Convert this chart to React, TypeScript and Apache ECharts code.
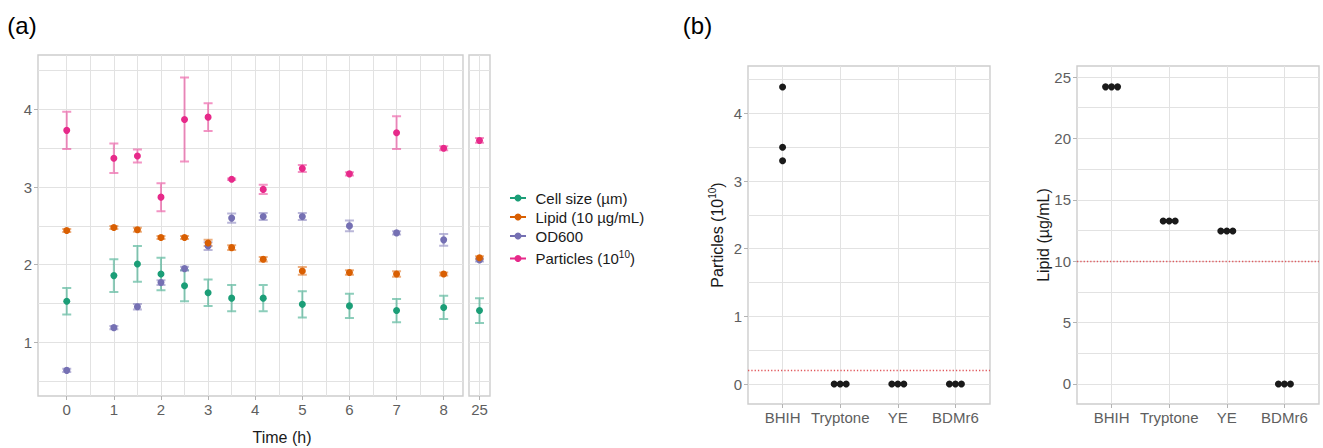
import React, { useEffect, useRef } from "react";
import * as echarts from "echarts";

// (a) Time course, mean ± SD
const times = [0, 1, 1.5, 2, 2.5, 3, 3.5, 4.17, 5, 6, 7, 8, 25];
const cellSize = [1.53, 1.86, 2.01, 1.88, 1.73, 1.64, 1.57, 1.57, 1.49, 1.47, 1.41, 1.45, 1.41];
const cellSizeSd = [0.17, 0.21, 0.23, 0.21, 0.2, 0.17, 0.17, 0.17, 0.17, 0.155, 0.15, 0.15, 0.16];
const lipid = [2.44, 2.48, 2.45, 2.35, 2.35, 2.28, 2.22, 2.07, 1.92, 1.9, 1.88, 1.88, 2.09];
const lipidSd = [0.02, 0.02, 0.025, 0.02, 0.02, 0.04, 0.03, 0.03, 0.05, 0.03, 0.035, 0.02, 0.02];
const od600 = [0.64, 1.19, 1.46, 1.77, 1.95, 2.24, 2.6, 2.62, 2.62, 2.5, 2.41, 2.32, 2.06];
const od600Sd = [0.02, 0.02, 0.035, 0.03, 0.025, 0.05, 0.06, 0.045, 0.045, 0.07, 0.02, 0.075, 0.02];
const particles = [3.73, 3.37, 3.4, 2.87, 3.87, 3.9, 3.1, 2.97, 3.24, 3.17, 3.7, 3.5, 3.6];
const particlesSd = [0.24, 0.19, 0.085, 0.18, 0.54, 0.18, 0.01, 0.06, 0.045, 0.02, 0.21, 0.025, 0.03];

const variableNames = ["Cell size (µm)", "Lipid (10 µg/mL)", "OD600", "Particles (10^10)"];
const variableLabels = ["Cell size (µm)", "Lipid (10 µg/mL)", "OD600", "Particles (10{sup|10})"];
const dark2 = ["#1B9E77", "#D95F02", "#7570B3", "#E7298A"];
const dark2Faded = [
  "rgba(27,158,119,0.5)",
  "rgba(217,95,2,0.5)",
  "rgba(117,112,179,0.5)",
  "rgba(231,41,138,0.5)",
];

const timeTicks = [0, 1, 2, 3, 4, 5, 6, 7, 8];
const timeGridLines = [0, 0.5, 1, 1.5, 2, 2.5, 3, 3.5, 4, 4.5, 5, 5.5, 6, 6.5, 7, 7.5, 8];
const lateTicks = [25];
const levelTicks = [1, 2, 3, 4];
const levelGridLines = [0.5, 1, 1.5, 2, 2.5, 3, 3.5, 4, 4.5];

// (b) End-point measurements per medium, three replicates each
const media = ["BHIH", "Tryptone", "YE", "BDMr6"];
const particleReplicates = [
  [4.39, 3.5, 3.3],
  [0, 0, 0],
  [0, 0, 0],
  [0, 0, 0],
];
const lipidReplicates = [
  [24.2, 24.2, 24.2],
  [13.27, 13.27, 13.27],
  [12.46, 12.46, 12.46],
  [0, 0, 0],
];
const particleLimit = 0.2;
const lipidLimit = 10;
const mediumTicks = [1, 2, 3, 4];
const particleTicks = [0, 1, 2, 3, 4];
const particleGridLines = [0, 0.5, 1, 1.5, 2, 2.5, 3, 3.5, 4, 4.5];
const lipidTicks = [0, 5, 10, 15, 20, 25];
const lipidGridLines = [0, 2.5, 5, 7.5, 10, 12.5, 15, 17.5, 20, 22.5, 25];

const FONT = "Liberation Sans, Arial, Helvetica, sans-serif";
const TICK_COLOR = "#5e5e5e";
const GRID_COLOR = "#e2e2e2";
const BORDER_COLOR = "#cdcdcd";

const panelGrid = (left: number, top: number, width: number, height: number) => ({
  left,
  top,
  width,
  height,
  show: true,
  backgroundColor: "#ffffff",
  borderColor: BORDER_COLOR,
  borderWidth: 1.4,
  containLabel: false,
});

// axis that only draws grid lines
const lineAxis = (gridIndex: number, position: string, min: number, max: number, lines: number[]) => ({
  type: "value",
  gridIndex,
  position,
  min,
  max,
  axisLine: { show: false, onZero: false },
  axisTick: { show: false, customValues: lines },
  axisLabel: { show: false },
  splitLine: { show: true, lineStyle: { color: GRID_COLOR, width: 1 } },
});

// axis that draws ticks and labels (and optionally grid lines at the ticks)
const labelAxis = (
  gridIndex: number,
  position: string,
  min: number,
  max: number,
  ticks: number[],
  withLines: boolean,
  formatter?: (v: number) => string
) => ({
  type: "value",
  gridIndex,
  position,
  min,
  max,
  axisLine: { show: false, onZero: false },
  axisTick: { show: true, length: 4, customValues: ticks, lineStyle: { color: "#b3b3b3", width: 1 } },
  axisLabel: {
    show: true,
    customValues: ticks,
    margin: 6,
    color: TICK_COLOR,
    fontSize: 15,
    fontFamily: FONT,
    formatter: formatter || ((v: number) => String(v)),
  },
  splitLine: { show: withLines, lineStyle: { color: GRID_COLOR, width: 1 } },
});

const errorBarRenderer = (color: string) => (params: any, api: any) => {
  const x = api.value(0);
  const top = api.coord([x, api.value(2)]);
  const bot = api.coord([x, api.value(1)]);
  const half = 4.5;
  return {
    type: "polyline",
    shape: {
      points: [
        [top[0] - half, top[1]],
        [top[0] + half, top[1]],
        [top[0], top[1]],
        [bot[0], bot[1]],
        [bot[0] - half, bot[1]],
        [bot[0] + half, bot[1]],
      ],
    },
    style: { stroke: color, lineWidth: 2, fill: "none" },
  };
};

// horizontal dot-plot offsets for replicates sharing the same value
const replicatePoints = (reps: number[][]) => {
  const out: any[] = [];
  reps.forEach((vals, j) => {
    vals.forEach((v, k) => {
      const same = vals.filter((u) => u === v).length;
      const rank = vals.slice(0, k).filter((u) => u === v).length;
      out.push({ value: [j + 1, v], symbolOffset: [(rank - (same - 1) / 2) * 6, 0] });
    });
  });
  return out;
};

export default function App() {
  const ref = useRef<HTMLDivElement>(null);

  useEffect(() => {
    if (!ref.current) return;
    const chart = echarts.init(ref.current, undefined, { renderer: "svg" });

    const values = [cellSize, lipid, od600, particles];
    const sds = [cellSizeSd, lipidSd, od600Sd, particlesSd];

    const panels = [
      { xAxisIndex: 1, yAxisIndex: 1, keep: (t: number) => t <= 8.5 },
      { xAxisIndex: 2, yAxisIndex: 2, keep: (t: number) => t > 8.5 },
    ];

    const errorSeries: any[] = [];
    const pointSeries: any[] = [];
    const pointOrder = [0, 2, 3, 1];
    values.forEach((vals, vi) => {
      panels.forEach((p) => {
        const idx = times.map((t, i) => i).filter((i) => p.keep(times[i]));
        errorSeries.push({
          type: "custom",
          name: variableNames[vi] + " SD",
          xAxisIndex: p.xAxisIndex,
          yAxisIndex: p.yAxisIndex,
          z: 2,
          silent: true,
          renderItem: errorBarRenderer(dark2Faded[vi]),
          data: idx.map((i) => [times[i], vals[i] - sds[vi][i], vals[i] + sds[vi][i]]),
        });
      });
    });
    pointOrder.forEach((vi) => {
      panels.forEach((p) => {
        const idx = times.map((t, i) => i).filter((i) => p.keep(times[i]));
        pointSeries.push({
          type: "scatter",
          name: variableNames[vi],
          xAxisIndex: p.xAxisIndex,
          yAxisIndex: p.yAxisIndex,
          z: 3,
          symbol: "circle",
          symbolSize: 7,
          itemStyle: { color: dark2[vi], opacity: 1 },
          data: idx.map((i) => [times[i], values[vi][i]]),
        });
      });
    });

    const limitLine = (y: number) => ({
      silent: true,
      symbol: ["none", "none"],
      label: { show: false },
      lineStyle: { color: "#e0585c", type: [1.3, 2], width: 1.3 },
      data: [{ yAxis: y }],
    });

    const mediumSeries = [
      {
        type: "scatter",
        name: "Particles by medium",
        xAxisIndex: 3,
        yAxisIndex: 4,
        z: 3,
        symbolSize: 7,
        itemStyle: { color: "#1a1a1a", opacity: 1 },
        data: replicatePoints(particleReplicates),
        markLine: limitLine(particleLimit),
      },
      {
        type: "scatter",
        name: "Lipid by medium",
        xAxisIndex: 4,
        yAxisIndex: 6,
        z: 3,
        symbolSize: 7,
        itemStyle: { color: "#1a1a1a", opacity: 1 },
        data: replicatePoints(lipidReplicates),
        markLine: limitLine(lipidLimit),
      },
    ];

    const legendRows = [198, 217, 236, 258.5];
    const legendGraphics = variableLabels.map((label, i) => ({
      type: "group",
      x: 510,
      y: legendRows[i],
      children: [
        { type: "line", shape: { x1: 0, y1: 0, x2: 16, y2: 0 }, style: { stroke: dark2[i], lineWidth: 2 } },
        { type: "circle", shape: { cx: 8, cy: 0, r: 3.5 }, style: { fill: dark2[i] } },
        {
          type: "text",
          x: 25.5,
          y: 0,
          style: {
            text: label,
            font: `15px ${FONT}`,
            fill: "#1a1a1a",
            verticalAlign: "middle",
            align: "left",
            rich: { sup: { fontSize: 10, fontFamily: FONT, fill: "#1a1a1a", padding: [0, 0, 9, 0] } },
          },
        },
      ],
    }));

    const option: any = {
      animation: false,
      backgroundColor: "#ffffff",
      textStyle: { fontFamily: FONT },
      grid: [
        panelGrid(38, 55, 425, 341),
        panelGrid(469, 55, 21, 341),
        panelGrid(748, 66, 242, 338),
        panelGrid(1077, 66, 242, 338),
      ],
      xAxis: [
        lineAxis(0, "top", -0.61, 8.41, timeGridLines),
        labelAxis(0, "bottom", -0.61, 8.41, timeTicks, false),
        labelAxis(1, "bottom", 24.5, 25.5, lateTicks, true),
        labelAxis(2, "bottom", 0.4, 4.6, mediumTicks, true, (v: number) => media[v - 1]),
        labelAxis(3, "bottom", 0.4, 4.6, mediumTicks, true, (v: number) => media[v - 1]),
      ],
      yAxis: [
        lineAxis(0, "right", 0.31, 4.7, levelGridLines),
        labelAxis(0, "left", 0.31, 4.7, levelTicks, false),
        lineAxis(1, "right", 0.31, 4.7, levelGridLines),
        lineAxis(2, "right", -0.295, 4.7, particleGridLines),
        labelAxis(2, "left", -0.295, 4.7, particleTicks, false),
        lineAxis(3, "right", -1.63, 25.9, lipidGridLines),
        labelAxis(3, "left", -1.63, 25.9, lipidTicks, false),
      ],
      series: [...errorSeries, ...pointSeries, ...mediumSeries],
      graphic: [
        {
          type: "text",
          x: 22,
          y: 25,
          style: { text: "(a)", font: `24px ${FONT}`, fill: "#000", align: "center", verticalAlign: "middle" },
        },
        {
          type: "text",
          x: 697.5,
          y: 25,
          style: { text: "(b)", font: `24px ${FONT}`, fill: "#000", align: "center", verticalAlign: "middle" },
        },
        {
          type: "text",
          x: 282,
          y: 437,
          style: { text: "Time (h)", font: `16px ${FONT}`, fill: "#1a1a1a", align: "center", verticalAlign: "middle" },
        },
        {
          type: "text",
          x: 717,
          y: 235,
          rotation: Math.PI / 2,
          style: {
            text: "Particles (10{sup|10})",
            font: `16px ${FONT}`,
            fill: "#1a1a1a",
            align: "center",
            verticalAlign: "middle",
            rich: { sup: { fontSize: 10, fontFamily: FONT, fill: "#1a1a1a", padding: [0, 0, 9, 0] } },
          },
        },
        {
          type: "text",
          x: 1043,
          y: 235,
          rotation: Math.PI / 2,
          style: { text: "Lipid (µg/mL)", font: `16px ${FONT}`, fill: "#1a1a1a", align: "center", verticalAlign: "middle" },
        },
        ...legendGraphics,
      ],
    };

    chart.setOption(option);
    return () => chart.dispose();
  }, []);

  return <div ref={ref} style={{ position: "fixed", left: 0, top: 0, width: 1323, height: 448 }} />;
}
